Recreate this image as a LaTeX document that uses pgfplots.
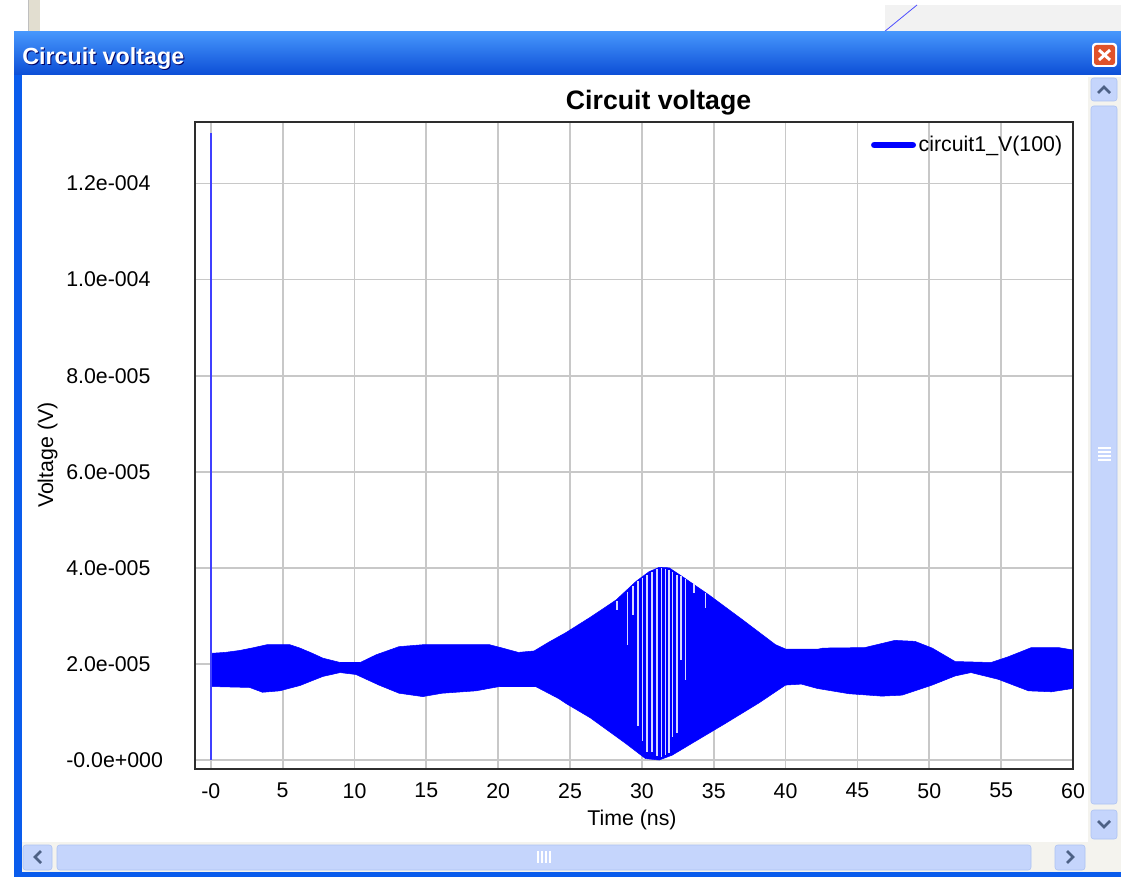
\documentclass[border=0pt]{standalone}
\usepackage{pgfplots}
\pgfplotsset{compat=1.18}
\usepackage{fontspec}
\setmainfont{Liberation Sans}

\definecolor{bandblue}{RGB}{0,0,255}
\definecolor{spikeblue}{RGB}{64,64,255}
\definecolor{gapcol}{RGB}{215,215,255}
\definecolor{gridgray}{RGB}{200,200,200}
\definecolor{boxcol}{RGB}{45,45,45}
\definecolor{xptop}{RGB}{70,150,252}
\definecolor{xpmid}{RGB}{8,88,232}
\definecolor{xpbot}{RGB}{12,78,214}
\definecolor{xpframe}{RGB}{10,92,236}
\definecolor{closered}{RGB}{224,82,42}
\definecolor{sbthumb}{RGB}{197,213,252}
\definecolor{sbborder}{RGB}{172,194,242}
\definecolor{sbtrack}{RGB}{244,243,238}
\definecolor{sbarrow}{RGB}{77,97,133}
\definecolor{beige}{RGB}{226,222,208}

\begin{document}
\begin{tikzpicture}
% ---------- window frame, drawn in pixel units ----------
\begin{scope}[x=0.75pt,y=-0.75pt]
  \useasboundingbox (0,0) rectangle (1121,877);
  \fill[white] (0,0) rectangle (1121,877);
  % windows lying behind
  \fill[beige] (28,0) rectangle (40,32);
  \draw[black!25] (28.5,0) -- (28.5,32);
  \fill[black!5] (885,5) rectangle (1121,32);
  \draw[blue!70, line width=0.6pt] (884,32) -- (917,5);
  % outer frame and title bar
  \fill[xpframe] (14,32) rectangle (1121,877);
  \shade[top color=xptop, middle color=xpmid, bottom color=xpbot] (14,32) rectangle (1121,75);
  \node[anchor=base west, inner sep=0pt, text=black!60!blue, font=\bfseries\fontsize{17.5}{20}\selectfont] at (23,65.8) {Circuit voltage};
  \node[anchor=base west, inner sep=0pt, text=white, font=\bfseries\fontsize{17.5}{20}\selectfont] at (22,65) {Circuit voltage};
  % close button
  \fill[white, rounded corners=2.5pt] (1092,43) rectangle (1117,67);
  \fill[closered, rounded corners=2pt] (1094,45) rectangle (1115,65);
  \draw[white, line width=2.2pt] (1099,50) -- (1110,60) (1110,50) -- (1099,60);
  % client area
  \fill[white] (22,75) rectangle (1121,872);
  % vertical scrollbar
  \fill[sbtrack] (1088,77) rectangle (1121,842);
  \draw[sbborder, fill=sbthumb, rounded corners=2pt] (1091,78) rectangle (1117,101);
  \draw[sbarrow, line width=2pt] (1098,93) -- (1104,87) -- (1110,93);
  \draw[sbborder, fill=sbthumb, rounded corners=2pt] (1091,106) rectangle (1117,804);
  \foreach \g in {448,452,456,460} \draw[white, line width=0.9pt] (1098,\g) -- (1111,\g);
  \draw[sbborder, fill=sbthumb, rounded corners=2pt] (1091,810) rectangle (1117,839);
  \draw[sbarrow, line width=2pt] (1098,821) -- (1104,827) -- (1110,821);
  % horizontal scrollbar
  \fill[sbtrack] (22,842) rectangle (1088,872);
  \draw[sbborder, fill=sbthumb, rounded corners=2pt] (23,845) rectangle (52,870);
  \draw[sbarrow, line width=2pt] (41,851) -- (35,857) -- (41,863);
  \draw[sbborder, fill=sbthumb, rounded corners=2pt] (57,845) rectangle (1031,870);
  \foreach \g in {538,542,546,550} \draw[white, line width=0.9pt] (\g,851) -- (\g,863);
  \draw[sbborder, fill=sbthumb, rounded corners=2pt] (1055,845) rectangle (1085,870);
  \draw[sbarrow, line width=2pt] (1067,851) -- (1073,857) -- (1067,863);
  \fill[sbtrack] (1088,842) rectangle (1121,872);
\end{scope}

% ---------- the chart ----------
\begin{axis}[
  at={(146.25pt,-576.75pt)}, anchor=south west,
  width=658.5pt, height=485.25pt, scale only axis,
  xmin=-1.1, xmax=60, ymin=-0.187, ymax=13.28,
  xtick={0,5,...,60},
  xticklabels={-0,5,10,15,20,25,30,35,40,45,50,55,60},
  ytick={0,2,...,12},
  yticklabels={-0.0e+000,2.0e-005,4.0e-005,6.0e-005,8.0e-005,1.0e-004,1.2e-004},
  major tick length=0pt,
  grid=major,
  major grid style={line width=1.3pt, color=gridgray},
  axis line style={line width=1.5pt, color=boxcol},
  tick label style={font=\fontsize{16}{19}\selectfont, inner sep=0pt},
  yticklabel style={anchor=west, xshift=-96.75pt},
  xticklabel style={anchor=north, yshift=-10.5pt},
  title={Circuit voltage},
  title style={font=\bfseries\fontsize{20}{24}\selectfont, at={(axis description cs:0.528,1.017)}, anchor=center},
  xlabel={Time (ns)},
  xlabel style={font=\fontsize{16}{19}\selectfont, at={(axis description cs:0.4977,-0.079)}, anchor=center},
  ylabel={Voltage (V)},
  ylabel style={font=\fontsize{16}{19}\selectfont, at={(axis description cs:-0.168,0.485)}, anchor=center},
  legend style={draw=none, fill=none, at={(axis description cs:0.991,0.9645)}, anchor=east,
    inner sep=0pt, nodes={inner sep=2pt, font=\fontsize{16}{19}\selectfont}},
  legend cell align=left,
  unbounded coords=jump,
  clip=true,
]
% envelope of the fast oscillation of V(100), in units of 1e-5 V
\addplot[fill=bandblue, draw=bandblue, line width=0.4pt,
  legend image code/.code={\draw[bandblue, line width=5pt, line cap=round] (2.5pt,0pt) -- (31.25pt,0pt);}]
  coordinates {
  (0,2.22) (1.0,2.24) (2.0,2.28) (3.0,2.34) (3.9,2.40) (5.5,2.40) (6.2,2.33)
  (7.0,2.23) (7.8,2.12) (9.0,2.03) (10.4,2.03) (11.5,2.19) (13.1,2.36)
  (14.75,2.40) (17.0,2.40) (19.4,2.40) (20.3,2.33) (21.4,2.24) (22.5,2.27)
  (23.5,2.45) (24.7,2.65) (26.4,2.97) (28.2,3.33) (29.6,3.72) (30.5,3.92)
  (31.2,4.01) (31.9,4.00) (33.0,3.78) (34.65,3.44) (37.0,2.92) (39.3,2.40)
  (40.0,2.31) (42.3,2.31) (42.6,2.33) (45.5,2.34) (47.6,2.49) (49.0,2.47)
  (50.2,2.33) (51.8,2.05) (54.3,2.03) (55.5,2.15) (57.1,2.34) (59.0,2.34)
  (60,2.29)
  (60,1.49) (58.5,1.42) (56.9,1.44) (54.8,1.68) (52.9,1.82) (51.8,1.75)
  (50.2,1.56) (48.1,1.35) (46.7,1.33) (44.4,1.38) (42.2,1.49) (41.1,1.58)
  (40.0,1.56) (38.1,1.18) (35.8,0.76) (33.5,0.35) (32.1,0.10) (31.2,0.00)
  (30.25,0.03) (28.85,0.35) (26.4,0.88) (24.7,1.18) (24.2,1.28) (22.6,1.53)
  (20.1,1.53) (18.45,1.44) (16.1,1.39) (14.75,1.32) (13.1,1.39) (11.7,1.56)
  (10.1,1.78) (9.0,1.82) (7.8,1.74) (6.2,1.55) (4.8,1.44) (3.6,1.41)
  (2.7,1.51) (0,1.53)
  } -- cycle;
\addlegendentry{circuit1\_V(100)}
% troughs between the peaks near the maximum of the beat
\addplot[gapcol, line width=1.1pt, forget plot] coordinates {
  (28.28,3.32) (28.28,3.13) (28.28,nan)
  (28.98,3.50) (28.98,2.40) (28.98,nan)
  (29.38,3.62) (29.38,3.02) (29.38,nan)
  (29.72,3.72) (29.72,0.71) (29.72,nan)
  (30.03,3.79) (30.03,0.40) (30.03,nan)
  (30.35,3.85) (30.35,0.17) (30.35,nan)
  (30.69,3.91) (30.69,0.17) (30.69,nan)
  (31.04,3.98) (31.04,0.08) (31.04,nan)
  (31.35,3.99) (31.35,0.06) (31.35,nan)
  (31.63,3.98) (31.63,0.10) (31.63,nan)
  (31.88,3.96) (31.88,0.15) (31.88,nan)
  (32.12,3.91) (32.12,0.48) (32.12,nan)
  (32.43,3.85) (32.43,0.56) (32.43,nan)
  (32.71,3.82) (32.71,2.08) (32.71,nan)
  (33.02,3.77) (33.02,1.67) (33.02,nan)
  (33.61,3.67) (33.61,3.48) (33.61,nan)
  (34.41,3.47) (34.41,3.17)
};
% initial spike at t = 0
\addplot[spikeblue, line width=1.5pt, forget plot] coordinates {(0,0) (0,13.06)};
\end{axis}
\end{tikzpicture}
\end{document}
